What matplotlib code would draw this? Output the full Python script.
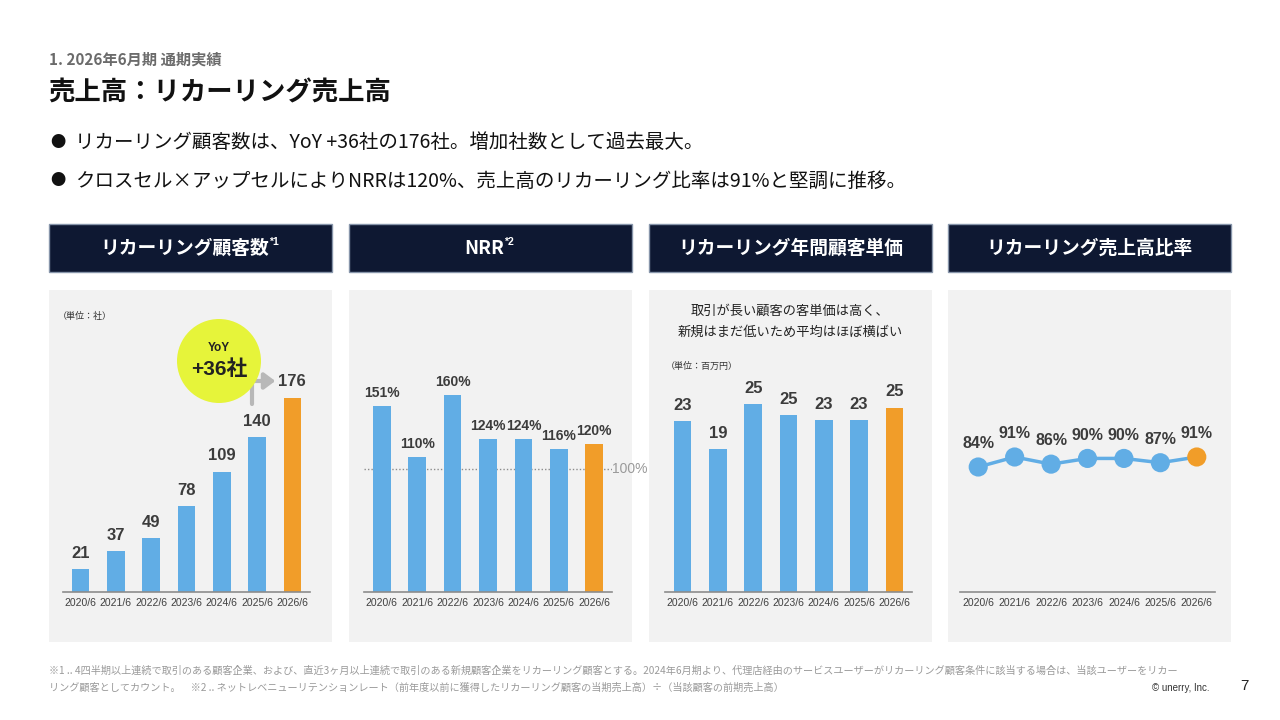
import matplotlib
matplotlib.use("Agg")
import matplotlib.pyplot as plt
from matplotlib.patches import Rectangle, Ellipse, FancyArrowPatch

# ---- data ----
years = ["2020/6", "2021/6", "2022/6", "2023/6", "2024/6", "2025/6", "2026/6"]
customer_counts = [21, 37, 49, 78, 109, 140, 176]
nrr = [151, 110, 160, 124, 124, 116, 120]
unit_price = [23.2, 19.4, 25.6, 24.1, 23.4, 23.4, 25.1]
unit_price_labels = ["23", "19", "25", "25", "23", "23", "25"]
recurring_ratio = [84, 91, 86, 90, 90, 87, 91]

panel_titles = ["リカーリング顧客数", "NRR", "リカーリング年間顧客単価", "リカーリング売上高比率"]
panel_sups = ["*1", "*2", "", ""]

W, H = 1280, 720
BLUE = "#61ade5"
ORANGE = "#f19d29"
LABEL = "#3c3c3c"
JP = ["Noto Sans CJK JP", "DejaVu Sans"]
NUM = ["Liberation Sans", "Noto Sans CJK JP"]

fig = plt.figure(figsize=(12.8, 7.2), dpi=100, facecolor="white")


def rect(x, y, w, h, **kw):
    fig.add_artist(Rectangle((x / W, 1 - (y + h) / H), w / W, h / H,
                             transform=fig.transFigure, **kw))


def ftext(x, y, s, **kw):
    return fig.text(x / W, 1 - y / H, s, **kw)


def add_ax(x0, x1, ytop, ybot):
    ax = fig.add_axes([x0 / W, 1 - ybot / H, (x1 - x0) / W, (ybot - ytop) / H])
    ax.set_facecolor("none")
    for s in ["top", "left", "right"]:
        ax.spines[s].set_visible(False)
    ax.spines["bottom"].set_color("#8c8c8c")
    ax.spines["bottom"].set_linewidth(1.2)
    ax.set_yticks([])
    ax.set_xticks(range(len(years)))
    ax.set_xticklabels(years, fontsize=7.5, color="#404040", family=NUM)
    ax.tick_params(axis="x", length=0, pad=4)
    ax.set_xlim(-0.5, len(years) - 0.5)
    return ax


# ---- header texts ----
ftext(49, 60, "1. 2026年6月期 通期実績", fontsize=11, color="#6b6b6b",
      family=JP, weight="bold", va="center")
ftext(48, 93, "売上高：リカーリング売上高", fontsize=19, color="#111111",
      family=JP, weight="bold", va="center")
bullets = ["リカーリング顧客数は、YoY +36社の176社。増加社数として過去最大。",
           "クロスセル×アップセルによりNRRは120%、売上高のリカーリング比率は91%と堅調に推移。"]
for i, b in enumerate(bullets):
    yy = 143 + 38 * i
    ftext(50, yy, "●", fontsize=11, color="#111111", family=JP, va="center")
    ftext(75, yy, b, fontsize=14, color="#111111", family=JP, va="center")

# ---- panel frames ----
panel_x = [49, 349, 649, 948]
panel_w = 283
fig.canvas.draw()
renderer = fig.canvas.get_renderer()
for px, title, sup in zip(panel_x, panel_titles, panel_sups):
    rect(px, 224, panel_w, 48, facecolor="#0e1832", edgecolor="#8795aa", lw=1,
         zorder=-5)
    rect(px, 290, panel_w, 352, facecolor="#f2f2f2", edgecolor="none", zorder=-5)
    shift = 6 if sup else 0
    t = ftext(px + panel_w / 2 - shift, 248, title, fontsize=13.5, color="white",
              family=JP, weight="bold", ha="center", va="center")
    if sup:
        bb = t.get_window_extent(renderer)
        fig.text(bb.x1 / W, 1 - 242 / H, sup, fontsize=7.5,
                 color="white", family=NUM, weight="bold", va="center")

# ---- panel 1: customer counts ----
ax1 = add_ax(63, 310, 300, 592)
ax1.set_ylim(0, 292 / 1.105)
c1 = [BLUE] * (len(years) - 1) + [ORANGE]
ax1.bar(range(len(years)), customer_counts, width=0.5, color=c1)
for i, v in enumerate(customer_counts):
    ax1.annotate(str(v), (i, v), xytext=(0, 8), textcoords="offset points",
                 ha="center", va="baseline", fontsize=12, weight="bold",
                 color=LABEL, family=NUM)
ftext(58, 316, "（単位：社）", fontsize=6.5, color="#333333", family=JP, va="center")

# YoY bubble and arrow
fig.add_artist(FancyArrowPatch((252 / W, 1 - 407 / H), (278 / W, 1 - 381 / H),
                               transform=fig.transFigure,
                               connectionstyle="angle,angleA=90,angleB=0,rad=0",
                               arrowstyle="-|>,head_length=4,head_width=3",
                               color="#b8b8b8", lw=3, mutation_scale=1.6,
                               zorder=5))
fig.add_artist(Ellipse((219 / W, 1 - 361 / H), 84 / W, 84 / H,
                       transform=fig.transFigure, facecolor="#e6f43a",
                       edgecolor="none", zorder=6))
ftext(219, 348, "YoY", fontsize=8.5, weight="bold", color="#222222",
      family=NUM, ha="center", va="center", zorder=7)
ftext(219, 369, "+36社", fontsize=15, weight="bold", color="#222222",
      family=NUM, ha="center", va="center", zorder=7)

# ---- panel 2: NRR ----
ax2 = add_ax(364, 612, 300, 592)
ax2.set_ylim(0, 292 / 1.23)
ax2.bar(range(len(years)), nrr, width=0.5, color=c1)
ax2.axhline(100, color="#8c8c8c", lw=1, ls=(0, (1, 1.5)), zorder=0)
ax2.text(1.0, 100, "100%", transform=ax2.get_yaxis_transform(), fontsize=10,
         color="#9a9a9a", family=NUM, ha="left", va="center")
for i, v in enumerate(nrr):
    ax2.annotate(f"{v}%", (i, v), xytext=(0, 6.5), textcoords="offset points",
                 ha="center", va="baseline", fontsize=10, weight="bold",
                 color=LABEL, family=NUM)

# ---- panel 3: unit price ----
ax3 = add_ax(665, 912, 300, 592)
ax3.set_ylim(0, 292 / 7.35)
ax3.bar(range(len(years)), unit_price, width=0.5, color=c1)
for i, (v, s) in enumerate(zip(unit_price, unit_price_labels)):
    ax3.annotate(s, (i, v), xytext=(0, 8), textcoords="offset points",
                 ha="center", va="baseline", fontsize=12, weight="bold",
                 color=LABEL, family=NUM)
ftext(790, 311, "取引が長い顧客の客単価は高く、", fontsize=9.5, color="#222222",
      family=JP, ha="center", va="center")
ftext(790, 332, "新規はまだ低いため平均はほぼ横ばい", fontsize=9.5, color="#222222",
      family=JP, ha="center", va="center")
ftext(666, 366, "（単位：百万円）", fontsize=6.5, color="#333333", family=JP, va="center")

# ---- panel 4: recurring ratio ----
ax4 = add_ax(960, 1215, 300, 592)
ax4.set_ylim(-3.5, -3.5 + 292 / 1.4286)
xs = list(range(len(years)))
ax4.plot(xs, recurring_ratio, color=BLUE, lw=2.5, zorder=2)
ax4.scatter(xs, recurring_ratio, s=190, color=c1, zorder=3, linewidths=0)
for i, v in enumerate(recurring_ratio):
    ax4.annotate(f"{v}%", (i, v), xytext=(0, 13.5), textcoords="offset points",
                 ha="center", va="baseline", fontsize=11.5, weight="bold",
                 color=LABEL, family=NUM)

# ---- footnotes ----
note1 = ("※1 .. 4四半期以上連続で取引のある顧客企業、および、直近3ヶ月以上連続で取引のある新規顧客企業をリカーリング顧客とする。"
         "2024年6月期より、代理店経由のサービスユーザーがリカーリング顧客条件に該当する場合は、当該ユーザーをリカー")
note2 = ("リング顧客としてカウント。　※2 .. ネットレベニューリテンションレート（前年度以前に獲得したリカーリング顧客の当期売上高）"
         "÷（当該顧客の前期売上高）")
ftext(49, 671, note1, fontsize=7.3, color="#9a9a9a", family=JP, va="center")
ftext(49, 688, note2, fontsize=7.3, color="#9a9a9a", family=JP, va="center")
ftext(1210, 688, "© unerry, Inc.", fontsize=7, color="#333333", family=NUM,
      ha="right", va="center")
ftext(1240, 686, "7", fontsize=11, color="#222222", family=NUM, va="center")

fig.savefig("out.png", dpi=100, facecolor="white")
